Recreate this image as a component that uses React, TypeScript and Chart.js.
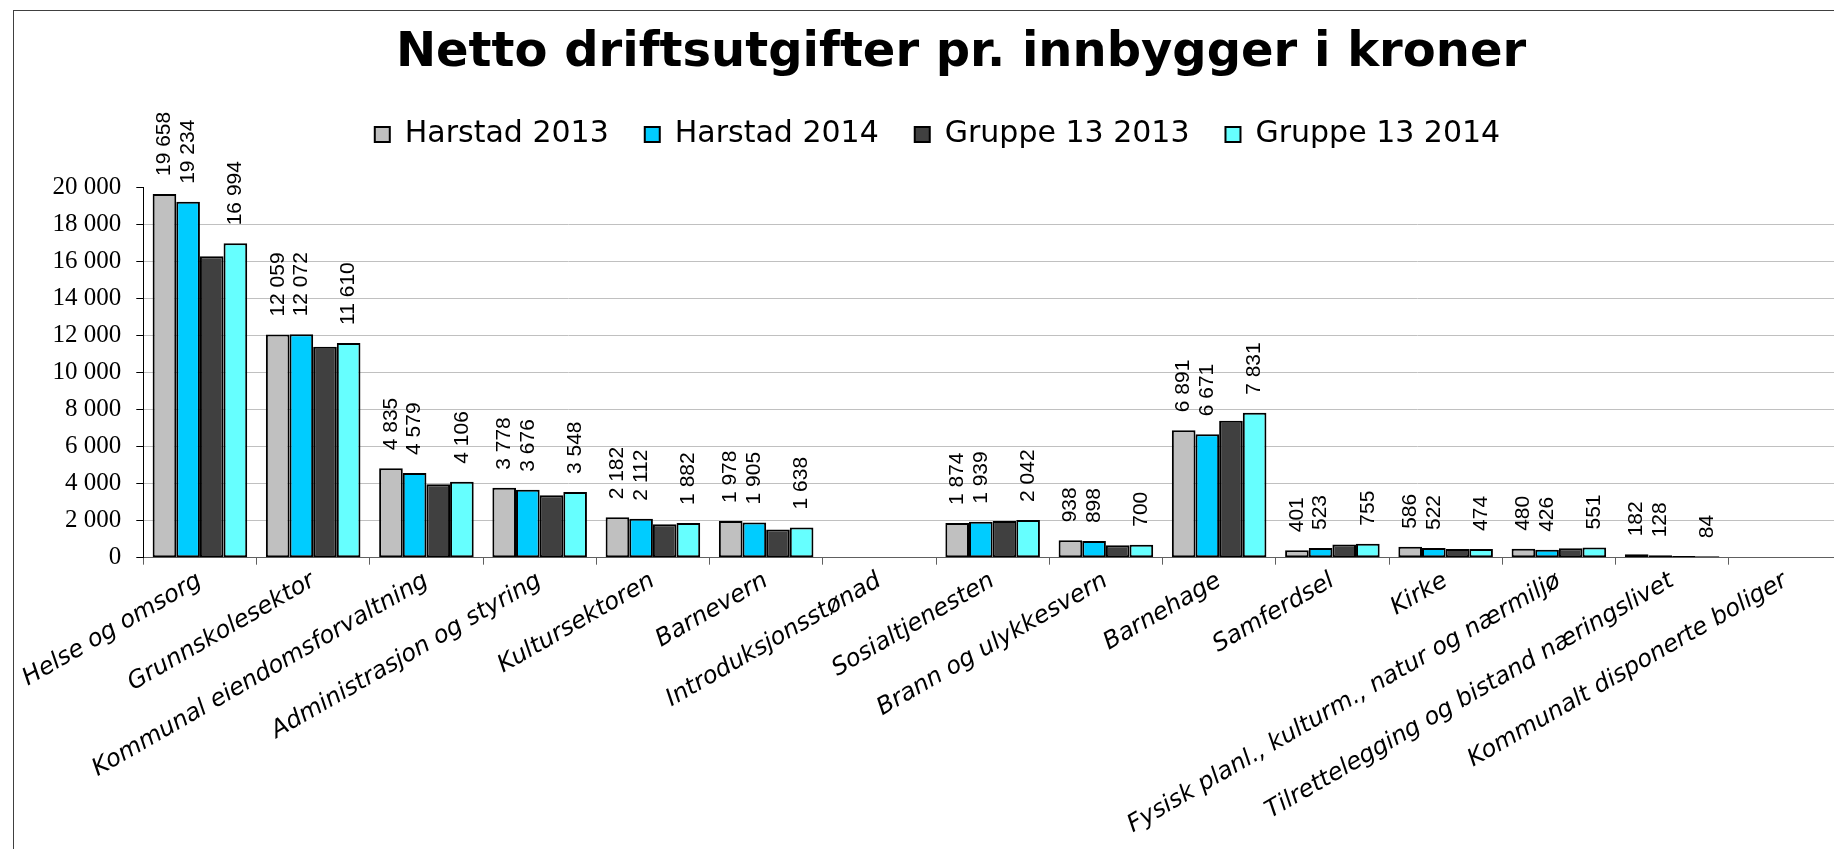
import React, { useEffect, useRef } from 'react';
import { Chart, registerables } from 'chart.js';

Chart.register(...registerables);

const chartTitle = 'Netto driftsutgifter pr. innbygger i kroner';

const categories = [
  'Helse og omsorg',
  'Grunnskolesektor',
  'Kommunal eiendomsforvaltning',
  'Administrasjon og styring',
  'Kultursektoren',
  'Barnevern',
  'Introduksjonsstønad',
  'Sosialtjenesten',
  'Brann og ulykkesvern',
  'Barnehage',
  'Samferdsel',
  'Kirke',
  'Fysisk planl., kulturm., natur og nærmiljø',
  'Tilrettelegging og bistand næringslivet',
  'Kommunalt disponerte boliger',
];

const seriesNames = ['Harstad 2013', 'Harstad 2014', 'Gruppe 13 2013', 'Gruppe 13 2014'];

const harstad2013 = [19658, 12059, 4835, 3778, 2182, 1978, null, 1874, 938, 6891, 401, 586, 480, 182, 0];
const harstad2014 = [19234, 12072, 4579, 3676, 2112, 1905, null, 1939, 898, 6671, 523, 522, 426, 128, 0];
const gruppe2013 = [16300, 11400, 3970, 3380, 1810, 1520, null, 1990, 675, 7400, 710, 470, 515, 95, 0];
const gruppe2014 = [16994, 11610, 4106, 3548, 1882, 1638, null, 2042, 700, 7831, 755, 474, 551, 84, null];

const seriesColors = ['#C0C0C0', '#00CCFF', '#404040', '#66FFFF'];
const labelledSeries = [true, true, false, true];

const yMin = 0;
const yMax = 20000;
const yStep = 2000;

const fmt = (v: number) => String(Math.round(v)).replace(/\B(?=(\d{3})+(?!\d))/g, '\u00a0');

const barLabels = {
  id: 'barLabels',
  afterDatasetsDraw(chart: any) {
    const ctx = chart.ctx;
    ctx.save();
    ctx.font = '21px "Liberation Sans", Arial, sans-serif';
    ctx.fillStyle = '#000';
    ctx.textAlign = 'left';
    ctx.textBaseline = 'middle';
    chart.data.datasets.forEach((ds: any, di: number) => {
      if (!labelledSeries[di]) return;
      const meta = chart.getDatasetMeta(di);
      meta.data.forEach((el: any, i: number) => {
        const v = ds.data[i];
        if (v == null || v === 0) return;
        ctx.save();
        ctx.translate(el.x, el.y - 18);
        ctx.rotate(-Math.PI / 2);
        ctx.fillText(fmt(v), 0, 0);
        ctx.restore();
      });
    });
    ctx.restore();
  },
};

// The original chart is wider than the visible crop: its title and legend are centred
// on the full (cropped) chart width, so nudge their horizontal centres accordingly.
const headerShift = {
  id: 'headerShift',
  afterLayout(chart: any) {
    if (chart.titleBlock) chart.titleBlock.left += 80;
    if (chart.legend) chart.legend.left += 33;
  },
};

export default function App() {
  const ref = useRef<HTMLCanvasElement | null>(null);

  useEffect(() => {
    if (!ref.current) return;
    const datasets = [harstad2013, harstad2014, gruppe2013, gruppe2014].map((data, i) => ({
      label: seriesNames[i],
      data,
      backgroundColor: seriesColors[i],
      borderColor: '#000000',
      borderWidth: 2,
      borderSkipped: false,
      categoryPercentage: 0.835,
      barPercentage: 1,
    }));
    const chart = new Chart(ref.current, {
      type: 'bar',
      data: { labels: categories, datasets },
      plugins: [barLabels, headerShift],
      options: {
        animation: false,
        responsive: false,
        devicePixelRatio: 1,
        layout: { padding: { left: 0, right: 20, top: 0, bottom: 0 } },
        plugins: {
          title: {
            display: true,
            text: chartTitle,
            color: '#000',
            font: { family: '"DejaVu Sans", Verdana, sans-serif', weight: 'bold', size: 48, lineHeight: 0.8 },
            padding: { top: 34, bottom: 11 },
          },
          legend: {
            display: true,
            position: 'top',
            labels: {
              boxWidth: 15,
              boxHeight: 15,
              padding: 36,
              color: '#000',
              font: { family: '"DejaVu Sans", Verdana, sans-serif', size: 30 },
            },
          },
          subtitle: {
            display: true,
            text: '',
            weight: 500,
            font: { size: 10, lineHeight: 1 },
            padding: { top: 18.3, bottom: 0 },
          },
          tooltip: { enabled: false },
        },
        scales: {
          x: {
            grid: {
              display: true,
              drawOnChartArea: false,
              drawTicks: true,
              tickLength: 7,
              tickColor: '#606060',
              offset: true,
            },
            border: { display: true, color: '#606060', width: 1 },
            ticks: {
              autoSkip: false,
              minRotation: 30,
              maxRotation: 30,
              color: '#000',
              padding: 2,
              font: { family: '"DejaVu Sans", Verdana, sans-serif', size: 24, style: 'italic' },
            },
            afterFit: (s: any) => {
              s.height = 291.3;
            },
          },
          y: {
            min: yMin,
            max: yMax,
            ticks: {
              stepSize: yStep,
              color: '#000',
              padding: 15,
              font: { family: '"Liberation Serif", "Times New Roman", serif', size: 25 },
              callback: (v: any) => fmt(Number(v)),
            },
            grid: {
              color: (c: any) => (c.tick && c.tick.value === yMax ? 'rgba(0,0,0,0)' : '#c0c0c0'),
              tickColor: '#000',
              tickLength: 7,
              lineWidth: 1,
            },
            border: { display: true, color: '#000', width: 1 },
            afterFit: (s: any) => {
              s.width = 143.3;
            },
          },
        },
      } as any,
    });
    return () => chart.destroy();
  }, []);

  return (
    <div
      style={{
        position: 'fixed',
        left: 0,
        top: 0,
        width: 1834,
        height: 849,
        overflow: 'hidden',
        background: '#fff',
      }}
    >
      <canvas ref={ref} width={1862} height={849} style={{ position: 'absolute', left: 0, top: 0 }} />
      <div
        style={{
          position: 'absolute',
          left: 13,
          top: 10,
          width: 2000,
          height: 1000,
          borderLeft: '1px solid #404040',
          borderTop: '1px solid #404040',
          pointerEvents: 'none',
        }}
      />
    </div>
  );
}
